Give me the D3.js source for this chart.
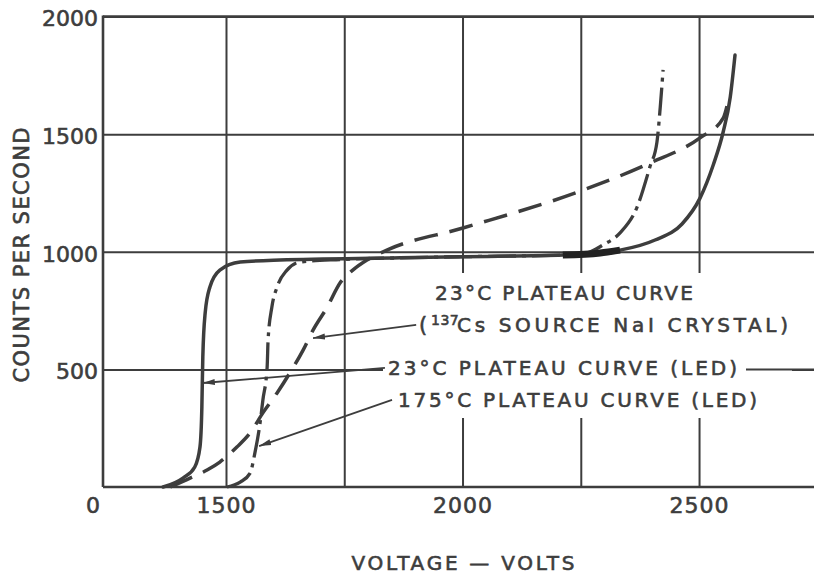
<!DOCTYPE html>
<html>
<head>
<meta charset="utf-8">
<script src="https://cdn.jsdelivr.net/npm/d3@7"></script>
<style>
  html, body { margin: 0; padding: 0; background: #fff; }
  svg { display: block; }
  text { font-family: "DejaVu Sans", sans-serif; fill: #3d3d3d; stroke: #3d3d3d; stroke-width: 0.6px; }
</style>
</head>
<body>
<svg id="chart" width="814" height="576"></svg>
<script>
// ---------------- data ----------------
const xTickValues = [1240, 1500, 2000, 2500];
const xTickLabels = ["0", "1500", "2000", "2500"];
const xGridValues = [1500, 1750, 2000, 2250, 2500];
const yTickValues = [500, 1000, 1500, 2000];
const yTickLabels = ["500", "1000", "1500", "2000"];

// 23°C plateau curve (LED) - solid
const led23 = [
  [1367, 0], [1409, 38], [1434, 85], [1445, 170], [1449, 340], [1451, 553],
  [1456, 740], [1466, 850], [1487, 922], [1530, 956], [1614, 965], [1868, 974],
  [2000, 979], [2212, 986], [2291, 995], [2333, 1007], [2407, 1050],
  [2464, 1118], [2502, 1228], [2530, 1369], [2551, 1509], [2566, 1658], [2576, 1836]
];
// 175°C plateau curve (LED) - dash-dot
const led175 = [
  [1502, 0], [1530, 21], [1551, 59], [1561, 144], [1572, 272], [1578, 370],
  [1587, 510], [1589, 625], [1597, 765], [1608, 850], [1629, 922], [1656, 956],
  [1741, 967], [1868, 974], [2000, 979], [2212, 986], [2255, 990], [2297, 1029],
  [2333, 1080], [2369, 1190], [2396, 1360], [2411, 1466], [2418, 1615], [2424, 1773]
];
// 23°C plateau curve (137Cs source NaI crystal) - dashed
const cs137 = [
  [1382, 0], [1424, 38], [1460, 72], [1487, 106], [1523, 170], [1551, 230],
  [1578, 315], [1608, 400], [1635, 485], [1663, 582], [1684, 667], [1714, 765],
  [1741, 867], [1768, 922], [1798, 965], [1840, 1007], [2001, 1101],
  [2255, 1262], [2396, 1377], [2502, 1484], [2551, 1568], [2561, 1636]
];
// leader lines: from (label end) -> to (arrow tip on curve), in data units
const leaders = [
  { from: [1902, 689], to: [1684, 633] },
  { from: [1836, 506], to: [1451, 442] },
  { from: [1851, 370], to: [1570, 174] }
];

// ---------------- layout ----------------
const ink = "#3d3d3d";
const svg = d3.select("#chart");
const x = d3.scaleLinear().domain([1240, 2743]).range([103, 814]);
const y = d3.scaleLinear().domain([0, 2000]).range([487, 16.5]);
const x0 = x.range()[0], x1 = x.range()[1];
const y0 = y.range()[0], y1 = y.range()[1];

// arrow marker
svg.append("defs").append("marker")
  .attr("id", "arrow").attr("markerUnits", "userSpaceOnUse")
  .attr("viewBox", "0 -4 12 8").attr("refX", 12).attr("refY", 0)
  .attr("markerWidth", 12).attr("markerHeight", 8).attr("orient", "auto")
  .append("path").attr("d", "M0,-3L12,0L0,3Z").attr("fill", ink);

// grid
const gx = svg.append("g").attr("transform", `translate(0,${y0})`)
  .call(d3.axisBottom(x).tickValues(xGridValues).tickSize(-(y0 - y1)).tickFormat(""));
gx.select(".domain").remove();
gx.selectAll("line").attr("stroke", ink).attr("stroke-width", 2);

const gy = svg.append("g").attr("transform", `translate(${x0},0)`)
  .call(d3.axisLeft(y).tickValues(yTickValues).tickSize(-(x1 - x0)).tickFormat(""));
gy.select(".domain").remove();
gy.selectAll("line").attr("stroke", ink).attr("stroke-width", 2);

// axes lines
svg.append("line").attr("x1", x0).attr("x2", x0).attr("y1", y1 - 1).attr("y2", y0)
  .attr("stroke", ink).attr("stroke-width", 2.6);
svg.append("line").attr("x1", x0).attr("x2", x1).attr("y1", y0).attr("y2", y0)
  .attr("stroke", ink).attr("stroke-width", 2.6);
svg.append("line").attr("x1", x0).attr("x2", x1).attr("y1", y1).attr("y2", y1)
  .attr("stroke", ink).attr("stroke-width", 2.6);

// white mask behind annotation text block
svg.append("rect").attr("x", 383).attr("y", 273).attr("width", 409).attr("height", 145)
  .attr("fill", "#fff");
// gridline at 500 resumes after label
svg.append("line").attr("x1", 746).attr("x2", x1).attr("y1", y(500)).attr("y2", y(500))
  .attr("stroke", ink).attr("stroke-width", 2);

// tick labels
const ax = svg.append("g").attr("transform", `translate(0,${y0})`)
  .call(d3.axisBottom(x).tickValues(xTickValues).tickSize(0).tickPadding(10)
    .tickFormat((d, i) => xTickLabels[i]));
ax.select(".domain").remove();
ax.selectAll("text").attr("font-size", 22).attr("letter-spacing", 1)
  .attr("font-family", "DejaVu Sans").attr("fill", ink);
ax.selectAll("text").filter((d, i) => i === 0).attr("dx", -10);

const ay = svg.append("g").attr("transform", `translate(${x0},0)`)
  .call(d3.axisLeft(y).tickValues(yTickValues).tickSize(0).tickPadding(5)
    .tickFormat((d, i) => yTickLabels[i]));
ay.select(".domain").remove();
ay.selectAll("text").attr("font-size", 22).attr("dy", "0.42em")
  .attr("font-family", "DejaVu Sans").attr("fill", ink);

// axis titles
svg.append("text").attr("x", 463).attr("y", 570).attr("text-anchor", "middle")
  .attr("font-size", 20).attr("textLength", 223).attr("lengthAdjust", "spacing")
  .text("VOLTAGE — VOLTS");
svg.append("text").attr("transform", "translate(29,255) rotate(-90)")
  .attr("text-anchor", "middle").attr("font-size", 21)
  .attr("textLength", 255).attr("lengthAdjust", "spacing")
  .text("COUNTS PER SECOND");

// curves
const line = d3.line().x(d => x(d[0])).y(d => y(d[1])).curve(d3.curveMonotoneX);
svg.append("path").datum(cs137).attr("d", line).attr("fill", "none")
  .attr("stroke", ink).attr("stroke-width", 3.5).attr("stroke-dasharray", "24,12");
svg.append("path").datum(led175).attr("d", line).attr("fill", "none")
  .attr("stroke", ink).attr("stroke-width", 3.3).attr("stroke-dasharray", "28,6,4,6");
svg.append("path").datum(led23).attr("d", line).attr("fill", "none")
  .attr("stroke", ink).attr("stroke-width", 3.5).attr("stroke-linecap", "round");
// heavy overlap where curves diverge
svg.append("path").datum(led23.filter(d => d[0] >= 2212 && d[0] <= 2333))
  .attr("d", line).attr("fill", "none").attr("stroke", "#222").attr("stroke-width", 7);

// leaders
leaders.forEach(l => {
  svg.append("line")
    .attr("x1", x(l.from[0])).attr("y1", y(l.from[1]))
    .attr("x2", x(l.to[0])).attr("y2", y(l.to[1]))
    .attr("stroke", ink).attr("stroke-width", 1.8).attr("marker-end", "url(#arrow)");
});

// annotation labels
function label(t, xx, yy, len, size) {
  svg.append("text").attr("x", xx).attr("y", yy).attr("font-size", size || 20)
    .attr("textLength", len).attr("lengthAdjust", "spacing").text(t);
}
label("23°C PLATEAU CURVE", 435, 300, 258);
svg.append("text").attr("x", 419).attr("y", 332).attr("font-size", 21).text("(");
svg.append("text").attr("x", 431).attr("y", 325).attr("font-size", 14)
  .attr("letter-spacing", 0.5).text("137");
label("Cs SOURCE NaI CRYSTAL)", 457, 332, 331);
label("23°C PLATEAU CURVE (LED)", 388, 375, 349);
label("175°C PLATEAU CURVE (LED)", 398, 407, 359);
</script>
</body>
</html>
